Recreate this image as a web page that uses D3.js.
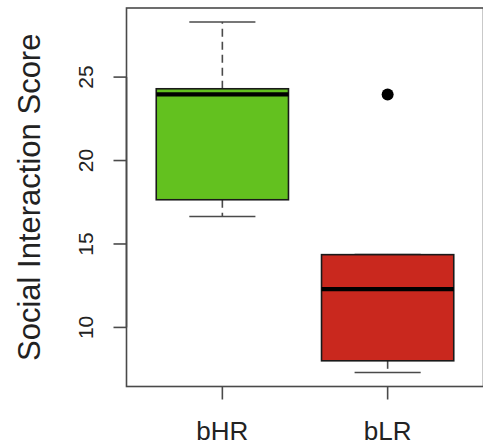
<!DOCTYPE html>
<html>
<head>
<meta charset="utf-8">
<script src="https://cdn.jsdelivr.net/npm/d3@7"></script>
<style>
  html, body { margin: 0; padding: 0; background: #fff; }
  svg { display: block; font-family: "Liberation Sans", Arial, Helvetica, sans-serif; }
</style>
</head>
<body>
<svg id="chart" width="483" height="446"></svg>
<script>
// Group names and box-plot summaries (lower whisker, Q1, median, Q3, upper whisker)
const groups = ["bHR", "bLR"];
const lowerWhisker = [16.65, 7.3];
const q1 = [17.65, 8.0];
const median = [23.97, 12.3];
const q3 = [24.3, 14.36];
const upperWhisker = [28.3, 14.36];
const outliers = [[], [23.95]];
const fills = ["#63c11f", "#c9281e"];
const yTicks = [10, 15, 20, 25];
const yTitle = "Social Interaction Score";

const svg = d3.select("#chart");
const plot = { left: 126.5, right: 483.5, top: 8, bottom: 386.5 };

// Axis limits padded by 4% on each side
const yMin = d3.min(lowerWhisker), yMax = d3.max(upperWhisker.concat(outliers.flat()));
const yPad = (yMax - yMin) * 0.04;
const y = d3.scaleLinear().domain([yMin - yPad, yMax + yPad]).range([plot.bottom, plot.top]);
const x = d3.scaleLinear().domain([0.42, groups.length + 0.58]).range([plot.left, plot.right]);
const unit = x(2) - x(1);
const boxW = unit * 0.8, capW = boxW * 0.5;

const axisColor = "#4a4a4a";

// Plot frame
svg.append("rect")
  .attr("x", plot.left).attr("y", plot.top)
  .attr("width", plot.right - plot.left).attr("height", plot.bottom - plot.top)
  .attr("fill", "none").attr("stroke", axisColor).attr("stroke-width", 1.6);

// Boxes
const g = svg.append("g");
groups.forEach((name, i) => {
  const cx = x(i + 1);
  // whiskers (dashed)
  g.append("line").attr("x1", cx).attr("x2", cx)
    .attr("y1", y(q3[i])).attr("y2", y(upperWhisker[i]))
    .attr("stroke", axisColor).attr("stroke-width", 1.6).attr("stroke-dasharray", "8,5");
  g.append("line").attr("x1", cx).attr("x2", cx)
    .attr("y1", y(q1[i])).attr("y2", y(lowerWhisker[i]))
    .attr("stroke", axisColor).attr("stroke-width", 1.6).attr("stroke-dasharray", "8,5");
  // staples
  [upperWhisker[i], lowerWhisker[i]].forEach(v => {
    g.append("line").attr("x1", cx - capW / 2).attr("x2", cx + capW / 2)
      .attr("y1", y(v)).attr("y2", y(v))
      .attr("stroke", axisColor).attr("stroke-width", 1.6);
  });
  // box
  g.append("rect")
    .attr("x", cx - boxW / 2).attr("width", boxW)
    .attr("y", y(q3[i])).attr("height", y(q1[i]) - y(q3[i]))
    .attr("fill", fills[i]).attr("stroke", "#1a1a1a").attr("stroke-width", 1.6);
  // median
  g.append("line").attr("x1", cx - boxW / 2).attr("x2", cx + boxW / 2)
    .attr("y1", y(median[i])).attr("y2", y(median[i]))
    .attr("stroke", "#000").attr("stroke-width", 4.2);
  // outliers
  outliers[i].forEach(v => {
    g.append("circle").attr("cx", cx).attr("cy", y(v)).attr("r", 6).attr("fill", "#000");
  });
});

// Y axis
const yAxis = svg.append("g");
yAxis.append("line").attr("x1", plot.left).attr("x2", plot.left)
  .attr("y1", y(yTicks[0])).attr("y2", y(yTicks[yTicks.length - 1]))
  .attr("stroke", axisColor).attr("stroke-width", 1.6);
yTicks.forEach(t => {
  yAxis.append("line").attr("x1", plot.left - 13).attr("x2", plot.left)
    .attr("y1", y(t)).attr("y2", y(t)).attr("stroke", axisColor).attr("stroke-width", 1.6);
  yAxis.append("text")
    .attr("transform", `translate(93,${y(t)}) rotate(-90)`)
    .attr("text-anchor", "middle").attr("font-size", 21).attr("fill", "#222")
    .text(t);
});

// X axis
const xAxis = svg.append("g");
groups.forEach((name, i) => {
  const cx = x(i + 1);
  xAxis.append("line").attr("x1", cx).attr("x2", cx)
    .attr("y1", plot.bottom).attr("y2", plot.bottom + 13)
    .attr("stroke", axisColor).attr("stroke-width", 1.6);
  xAxis.append("text").attr("x", cx).attr("y", 440)
    .attr("text-anchor", "middle").attr("font-size", 26).attr("fill", "#222")
    .text(name);
});

// Y title
svg.append("text")
  .attr("transform", `translate(40,${(plot.top + plot.bottom) / 2}) rotate(-90)`)
  .attr("text-anchor", "middle").attr("font-size", 31).attr("fill", "#222")
  .text(yTitle);
</script>
</body>
</html>
